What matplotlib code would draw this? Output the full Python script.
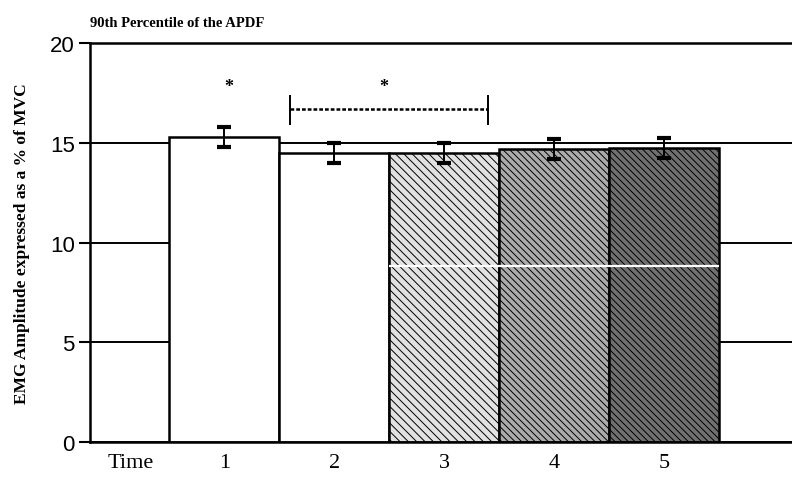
import numpy as np
import matplotlib
matplotlib.use('Agg')
import matplotlib.pyplot as plt

# Data
times = ['1', '2', '3', '4', '5']
means = [15.3, 14.5, 14.5, 14.7, 14.75]
errs = [0.5, 0.5, 0.5, 0.5, 0.5]
star_y = 17.8          # level of significance stars
bracket_y = 16.7       # level of dashed bracket between times 2 and 3

# Styles
faces = ['white', 'white', '#e2e2e2', '#ababab', '#707070']
hatches = [None, None, '\\\\\\\\', '\\\\\\\\\\', '\\\\\\\\\\']

plt.rcParams['hatch.linewidth'] = 0.7
serif = ['Liberation Serif', 'DejaVu Serif']
sans = ['Liberation Sans', 'DejaVu Sans']

fig = plt.figure(figsize=(7.92, 4.81), dpi=100)
ax = fig.add_axes([0.1136, 0.079, 0.8864, 0.8295])

pos = np.arange(1, len(times) + 1)

bars = ax.bar(pos, means, width=1.0, color=faces, edgecolor='black',
              linewidth=1.8, zorder=2)
for b, h in zip(bars, hatches):
    if h:
        b.set_hatch(h)

ax.errorbar(pos, means, yerr=errs, fmt='none', ecolor='black',
            elinewidth=1.4, capsize=5, capthick=3, zorder=4)

# white scan line running across the shaded bars
ax.hlines(8.8, pos[2] - 0.5, pos[4] + 0.5, color='white', lw=1.6, zorder=3)

# significance markers
ax.text(pos[0] + 0.04, star_y, '*', ha='center', va='center',
        fontsize=13, fontweight='bold', family=serif)
ax.text(pos[1] + 0.45, star_y, '*', ha='center', va='center',
        fontsize=13, fontweight='bold', family=serif)
ax.plot([pos[1] - 0.4, pos[2] + 0.4], [bracket_y, bracket_y], color='black',
        lw=1.8, ls=(0, (1.5, 0.8)))
ax.vlines([pos[1] - 0.4, pos[2] + 0.4], bracket_y - 0.8, bracket_y + 0.7,
          color='black', lw=1.4)

ax.set_xlim(-0.22, 6.16)
ax.set_ylim(0, 20)
ax.set_yticks([0, 5, 10, 15, 20])
ax.yaxis.grid(True, color='black', lw=1.4, zorder=0)
ax.set_axisbelow(True)
for lbl in ax.get_yticklabels():
    lbl.set_family(sans)
    lbl.set_fontsize(16)
ax.tick_params(axis='y', direction='out', length=8, width=1.5, pad=3)

ax.set_xticks(np.concatenate([[0.15], pos]))
ax.set_xticklabels(['Time'] + times, family=serif, fontsize=16)
ax.tick_params(axis='x', length=0, pad=8)

for s in ['left', 'top', 'bottom']:
    ax.spines[s].set_linewidth(1.8)
ax.spines['right'].set_visible(False)

ax.set_title('90th Percentile of the APDF', loc='left', family=serif,
             fontweight='bold', fontsize=10.5, pad=12)
ax.set_ylabel('EMG Amplitude expressed as a % of MVC', family=serif,
              fontweight='bold', fontsize=12.5, labelpad=14)

fig.savefig('out.png', dpi=100)
